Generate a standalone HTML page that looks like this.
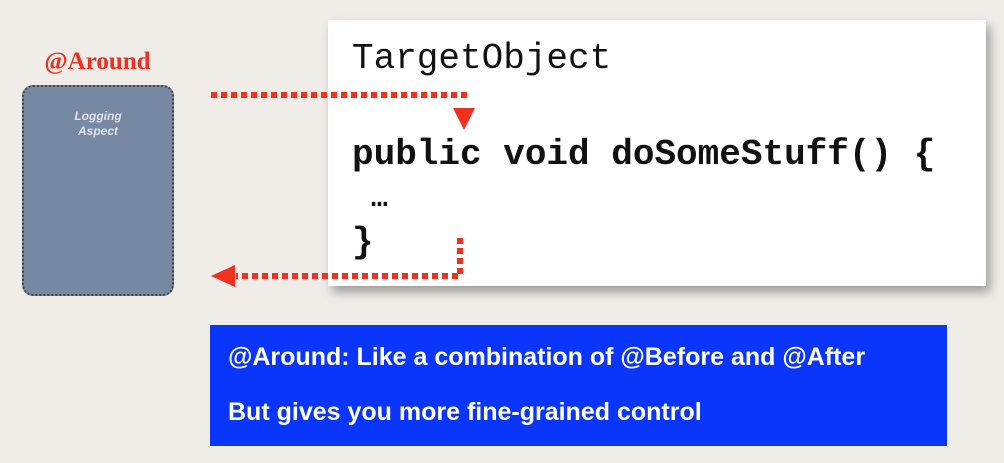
<!DOCTYPE html>
<html><head><style>
body{margin:0;width:1004px;height:463px;background:#f0ede8;position:relative;overflow:hidden;font-family:"Liberation Sans",sans-serif}
.wb{position:absolute;left:328px;top:20px;width:658px;height:266px;background:#fff;box-shadow:4px 6px 10px rgba(0,0,0,.35)}
.m{position:absolute;font-family:"Liberation Mono",monospace;font-size:36px;color:#111;white-space:pre;line-height:1}
.lg{position:absolute;left:22px;top:85px;width:148px;height:207px;background:#7788a2;border:2px dotted #444;border-radius:11px}
.blue{position:absolute;left:210px;top:325px;width:737px;height:121px;background:#0a36fb;color:#fff;font-weight:bold;font-size:25px}
</style></head><body>
<div class="wb"></div>
<div class="m" style="left:352px;top:41px">TargetObject</div>
<div class="m" style="left:352px;top:137px;font-weight:bold">public void doSomeStuff() {</div>
<div class="m" style="left:371px;top:186px;font-weight:bold;font-size:28px">…</div>
<div class="m" style="left:352px;top:225px;font-weight:bold">}</div>
<div style="position:absolute;left:0;width:195px;top:48px;text-align:center;font-family:'Liberation Serif',serif;font-weight:bold;font-size:25px;color:#f0301e">@Around</div>
<div class="lg"><div style="text-align:center;color:#dfe3ea;font-style:italic;font-weight:bold;font-size:12px;margin-top:22px;line-height:15px">Logging<br>Aspect</div></div>
<svg width="1004" height="463" style="position:absolute;left:0;top:0">
<g stroke="#f2301e" stroke-width="6" stroke-dasharray="6 4" fill="none">
<line x1="211" y1="95" x2="468" y2="95"/>
<polyline points="460,238 460,276 236,276"/>
</g>
<polygon points="453,108 475,108 464,130" fill="#f2301e"/>
<polygon points="235,265 235,287 211,276" fill="#f2301e"/>
</svg>
<div class="blue"><div style="position:absolute;left:18px;top:18px">@Around: Like a combination of @Before and @After</div><div style="position:absolute;left:18px;top:73px">But gives you more fine-grained control</div></div>
</body></html>
